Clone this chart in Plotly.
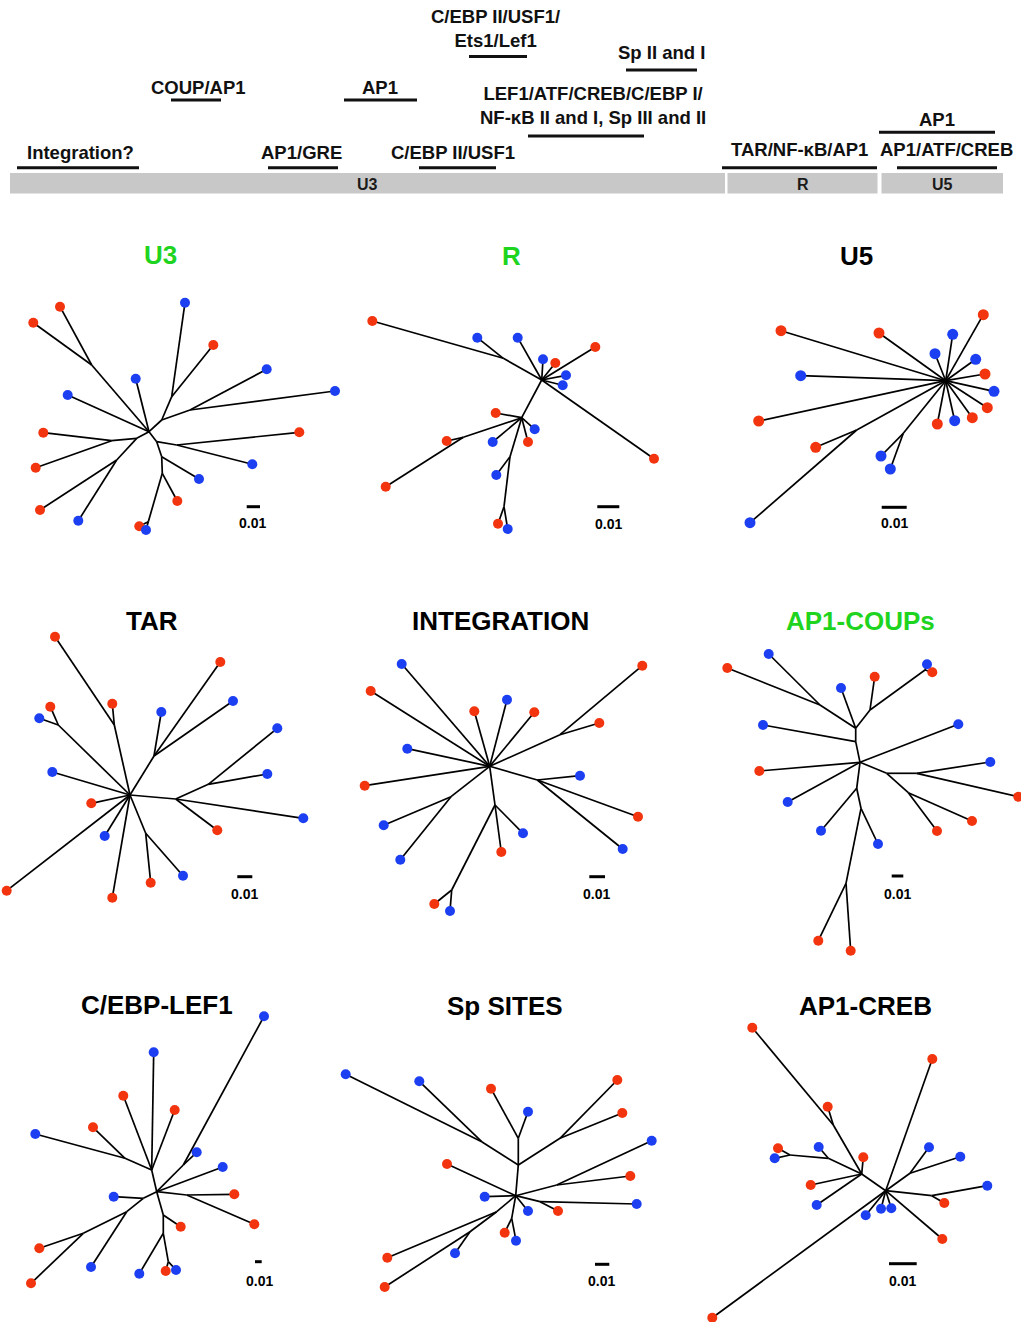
import plotly.graph_objects as go

FIG_W, FIG_H = 1021, 1322
RED = "#f2350f"
BLUE = "#1c3ff2"
GREEN = "#1fd41f"
INK = "#111111"
FONT = "Arial, 'Liberation Sans', sans-serif"

# ---------------------------------------------------------------------------
# LTR map: binding-site segments along the LTR (pixel scale of the map)
# ---------------------------------------------------------------------------
REGION_NAMES = ["U3", "R", "U5"]
REGION_START = [10, 727.5, 881.5]
REGION_END = [725, 877.5, 1003]

SITE_NAMES = [
    "Integration?", "AP1/GRE", "C/EBP II/USF1", "COUP/AP1", "AP1",
    "C/EBP II/USF1/<br>Ets1/Lef1", "Sp II and I",
    "LEF1/ATF/CREB/C/EBP I/<br>NF-κB II and I, Sp III and II",
    "TAR/NF-κB/AP1", "AP1", "AP1/ATF/CREB",
]
SITE_START = [17, 268, 419, 171, 344, 469, 626, 528, 722, 879, 897]
SITE_END = [139, 338, 496, 221, 417, 527, 697, 644, 877, 995, 997]

# ---------------------------------------------------------------------------
# Unrooted trees: (node, parent, x, y, group)   group: "R" red tip, "B" blue tip
# ---------------------------------------------------------------------------
TREE_U3 = [
    ("H", None, 149.0, 201.7, ""),
    ("A", "H", 91.7, 135.0, ""), ("r1", "A", 60.0, 76.7, "R"), ("r2", "A", 33.3, 92.7, "R"),
    ("b1", "H", 135.7, 148.7, "B"), ("b2", "H", 67.7, 165.0, "B"),
    ("B", "H", 161.7, 190.0, ""),
    ("C", "B", 171.7, 166.7, ""), ("b3", "C", 185.0, 72.7, "B"), ("r3", "C", 213.3, 115.0, "R"),
    ("D", "B", 190.0, 180.0, ""), ("b4", "D", 266.7, 139.3, "B"), ("b5", "D", 335.0, 161.0, "B"),
    ("E", "H", 136.7, 208.3, ""),
    ("F", "E", 111.7, 210.7, ""), ("r4", "F", 43.3, 202.7, "R"), ("r5", "F", 35.7, 237.7, "R"),
    ("G", "E", 116.7, 230.0, ""), ("r6", "G", 40.0, 280.0, "R"), ("b6", "G", 78.3, 290.7, "B"),
    ("N1", "H", 156.7, 211.7, ""),
    ("N2", "N1", 176.7, 215.0, ""), ("r7", "N2", 299.3, 202.3, "R"), ("b7", "N2", 252.3, 234.3, "B"),
    ("N3", "N1", 161.7, 226.7, ""), ("b8", "N3", 199.0, 249.0, "B"),
    ("N4", "N3", 162.3, 243.3, ""), ("r8", "N4", 177.3, 271.0, "R"),
    ("N5", "N4", 148.3, 291.7, ""), ("r9", "N5", 139.3, 296.3, "R"), ("b9", "N5", 146.0, 300.0, "B"),
]

TREE_R = [
    ("H", None, 201.7, 150.0, ""),
    ("a", "H", 163.3, 128.3, ""), ("r1", "a", 32.3, 91.0, "R"), ("b1", "a", 137.3, 107.7, "B"),
    ("b2", "H", 177.7, 107.7, "B"), ("r2", "H", 255.3, 117.0, "R"),
    ("b3", "H", 203.0, 129.3, "B"), ("r3", "H", 215.3, 133.0, "R"),
    ("b4", "H", 226.0, 145.3, "B"), ("b5", "H", 222.7, 155.3, "B"),
    ("r4", "H", 314.0, 228.7, "R"),
    ("b", "H", 181.7, 187.7, ""),
    ("r5", "b", 155.7, 183.0, "R"), ("b6", "b", 194.7, 199.3, "B"),
    ("r6", "b", 188.0, 212.0, "R"), ("b7", "b", 152.7, 212.0, "B"),
    ("c", "b", 123.3, 207.3, ""), ("r7", "c", 106.7, 211.0, "R"), ("r8", "c", 45.7, 256.7, "R"),
    ("d", "b", 170.0, 226.7, ""), ("b8", "d", 156.3, 245.0, "B"),
    ("e", "d", 164.0, 276.7, ""), ("r9", "e", 158.0, 293.7, "R"), ("b9", "e", 167.7, 299.0, "B"),
]

TREE_U5 = [
    ("H", None, 265.7, 150.7, ""),
    ("r1", "H", 101.0, 100.7, "R"), ("r2", "H", 199.0, 103.0, "R"), ("r3", "H", 303.3, 84.7, "R"),
    ("b1", "H", 272.7, 104.3, "B"), ("b2", "H", 255.0, 123.7, "B"), ("b3", "H", 295.7, 129.3, "B"),
    ("r4", "H", 305.0, 144.0, "R"), ("b4", "H", 314.0, 161.3, "B"), ("r5", "H", 307.3, 177.7, "R"),
    ("r6", "H", 292.3, 187.7, "R"), ("b5", "H", 274.7, 190.7, "B"), ("r7", "H", 257.3, 194.0, "R"),
    ("b6", "H", 120.7, 145.7, "B"), ("r8", "H", 78.7, 191.0, "R"),
    ("n1", "H", 176.7, 200.0, ""), ("r9", "n1", 135.7, 217.3, "R"), ("b7", "n1", 70.0, 292.7, "B"),
    ("n2", "H", 223.3, 203.3, ""), ("b8", "n2", 201.0, 226.0, "B"), ("b9", "n2", 210.3, 239.0, "B"),
]

TREE_TAR = [
    ("H", None, 130.0, 195.0, ""),
    ("A", "H", 114.3, 125.0, ""), ("r1", "A", 55.0, 36.7, "R"), ("r2", "A", 112.3, 103.7, "R"),
    ("B", "H", 58.3, 125.0, ""), ("r3", "B", 50.3, 106.7, "R"), ("b1", "B", 39.3, 118.3, "B"),
    ("C", "H", 154.0, 156.0, ""), ("b2", "C", 161.3, 112.0, "B"),
    ("r4", "C", 220.3, 62.0, "R"), ("b3", "C", 233.0, 101.0, "B"),
    ("b4", "H", 52.3, 172.0, "B"), ("r5", "H", 91.3, 203.3, "R"), ("b5", "H", 104.7, 236.0, "B"),
    ("r6", "H", 6.7, 290.7, "R"), ("r7", "H", 112.3, 297.7, "R"),
    ("D", "H", 175.7, 199.0, ""), ("r8", "D", 217.3, 230.3, "R"), ("b6", "D", 303.3, 218.3, "B"),
    ("E", "D", 208.3, 184.3, ""), ("b7", "E", 277.3, 128.3, "B"), ("b8", "E", 267.3, 174.0, "B"),
    ("F", "H", 145.7, 233.3, ""), ("b9", "F", 183.0, 275.7, "B"), ("r9", "F", 150.7, 282.7, "R"),
]

TREE_INTEGRATION = [
    ("H", None, 149.7, 166.3, ""),
    ("b1", "H", 61.7, 64.0, "B"), ("r1", "H", 30.7, 91.0, "R"), ("b2", "H", 167.0, 99.7, "B"),
    ("r2", "H", 134.3, 111.3, "R"), ("r3", "H", 194.3, 112.3, "R"), ("b3", "H", 67.3, 148.7, "B"),
    ("r4", "H", 24.7, 185.7, "R"),
    ("A", "H", 220.0, 134.7, ""), ("r5", "A", 302.3, 65.7, "R"), ("r6", "A", 259.3, 123.0, "R"),
    ("B", "H", 197.3, 180.0, ""), ("b4", "B", 240.0, 175.7, "B"),
    ("r7", "B", 298.0, 216.7, "R"), ("b5", "B", 282.7, 249.0, "B"),
    ("C", "H", 111.0, 196.7, ""), ("b6", "C", 43.7, 225.3, "B"), ("b7", "C", 60.3, 259.7, "B"),
    ("D", "H", 155.0, 205.0, ""), ("b8", "D", 183.0, 233.3, "B"), ("r8", "D", 161.3, 252.0, "R"),
    ("E", "D", 111.7, 290.0, ""), ("r9", "E", 94.3, 304.0, "R"), ("b9", "E", 110.0, 311.0, "B"),
]

TREE_AP1_COUP = [
    ("H", None, 170.0, 162.3, ""),
    ("K", "H", 165.7, 141.7, ""), ("b1", "K", 73.0, 125.0, "B"),
    ("J", "K", 165.7, 128.3, ""),
    ("A", "J", 130.0, 105.0, ""), ("b2", "A", 78.7, 54.0, "B"), ("r1", "A", 37.3, 68.0, "R"),
    ("b3", "J", 151.0, 88.0, "B"),
    ("B", "J", 180.0, 110.0, ""), ("r2", "B", 184.7, 76.7, "R"),
    ("C", "B", 235.0, 70.0, ""), ("b4", "C", 237.0, 64.3, "B"), ("r3", "C", 242.3, 72.3, "R"),
    ("b5", "H", 268.3, 124.3, "B"), ("r4", "H", 69.3, 171.0, "R"), ("b6", "H", 97.7, 202.0, "B"),
    ("D", "H", 196.7, 173.3, ""),
    ("E", "D", 226.7, 173.3, ""), ("b7", "E", 300.3, 162.0, "B"), ("r5", "E", 328.3, 196.7, "R"),
    ("F", "D", 218.3, 192.7, ""), ("r6", "F", 282.0, 221.0, "R"), ("r7", "F", 247.0, 231.0, "R"),
    ("P", "H", 166.7, 188.3, ""), ("b8", "P", 131.0, 230.7, "B"),
    ("Q", "P", 171.0, 208.3, ""), ("b9", "Q", 188.0, 244.0, "B"),
    ("S", "Q", 156.0, 283.3, ""), ("r8", "S", 128.3, 340.7, "R"), ("r9", "S", 160.7, 350.7, "R"),
]

TREE_CEBP_LEF1 = [
    ("H", None, 156.7, 206.7, ""),
    ("A", "H", 151.7, 185.0, ""), ("b1", "A", 153.7, 67.3, "B"),
    ("r1", "A", 123.3, 110.7, "R"), ("r2", "A", 174.7, 125.0, "R"),
    ("B", "A", 125.0, 173.3, ""), ("b2", "B", 35.3, 149.0, "B"), ("r3", "B", 93.0, 142.3, "R"),
    ("C", "H", 183.3, 180.0, ""), ("b3", "C", 264.0, 31.3, "B"), ("b4", "C", 196.7, 167.3, "B"),
    ("b5", "H", 222.7, 182.0, "B"),
    ("D", "H", 186.7, 210.0, ""), ("r4", "D", 234.3, 209.3, "R"), ("r5", "D", 254.3, 239.3, "R"),
    ("E", "H", 143.3, 213.3, ""), ("b6", "E", 113.7, 211.7, "B"),
    ("F", "E", 126.7, 226.7, ""),
    ("G", "F", 83.3, 248.3, ""), ("r6", "G", 39.3, 263.3, "R"), ("r7", "G", 31.0, 298.3, "R"),
    ("b7", "F", 91.0, 282.0, "B"),
    ("I", "H", 163.3, 230.0, ""), ("r8", "I", 180.7, 241.7, "R"),
    ("J", "I", 163.3, 248.3, ""), ("b8", "J", 139.3, 288.7, "B"),
    ("K", "J", 168.3, 276.7, ""), ("r9", "K", 165.7, 286.0, "R"), ("b9", "K", 176.0, 285.0, "B"),
]

TREE_SP = [
    ("H", None, 185.7, 210.7, ""),
    ("A", "H", 188.3, 180.0, ""),
    ("B", "A", 151.7, 156.7, ""), ("b1", "B", 15.7, 89.3, "B"), ("b2", "B", 89.3, 96.3, "B"),
    ("C", "A", 188.3, 153.3, ""), ("r1", "C", 161.0, 103.7, "R"), ("b3", "C", 198.0, 126.7, "B"),
    ("D", "A", 230.0, 153.3, ""), ("r2", "D", 287.3, 95.0, "R"), ("r3", "D", 292.3, 128.0, "R"),
    ("E", "H", 226.7, 200.0, ""), ("b4", "E", 321.7, 155.7, "B"), ("r4", "E", 300.3, 191.0, "R"),
    ("F", "H", 210.0, 216.7, ""), ("b5", "F", 306.7, 219.0, "B"), ("r5", "F", 228.0, 226.0, "R"),
    ("r6", "H", 117.0, 179.0, "R"), ("b6", "H", 154.7, 211.7, "B"), ("b7", "H", 198.0, 226.0, "B"),
    ("G", "H", 181.7, 233.3, ""), ("r7", "G", 174.7, 247.7, "R"), ("b8", "G", 186.0, 255.7, "B"),
    ("I", "H", 166.7, 226.7, ""), ("r8", "I", 57.3, 272.7, "R"),
    ("J", "I", 140.0, 246.7, ""), ("b9", "J", 125.0, 268.3, "B"), ("r9", "J", 54.7, 302.0, "R"),
]

TREE_AP1_CREB = [
    ("H1", None, 195.7, 205.7, ""),
    ("H2", "H1", 171.7, 189.0, ""), ("r1", "H2", 173.3, 172.3, "R"),
    ("A", "H2", 143.3, 140.0, ""), ("r2", "A", 137.7, 121.7, "R"), ("r3", "A", 62.3, 42.7, "R"),
    ("B", "H2", 138.3, 173.3, ""), ("b1", "B", 128.7, 162.0, "B"),
    ("C", "B", 100.0, 170.0, ""), ("r4", "C", 88.0, 163.3, "R"), ("b2", "C", 84.7, 173.3, "B"),
    ("r5", "H2", 120.7, 200.0, "R"), ("b3", "H2", 126.7, 220.0, "B"),
    ("r6", "H1", 242.3, 74.0, "R"),
    ("D", "H1", 220.0, 188.3, ""), ("b4", "D", 239.0, 162.3, "B"), ("b5", "D", 270.3, 171.7, "B"),
    ("E", "H1", 241.7, 210.7, ""), ("b6", "E", 297.3, 200.7, "B"), ("r7", "E", 254.3, 218.0, "R"),
    ("r8", "H1", 252.3, 254.0, "R"), ("b7", "H1", 175.7, 230.3, "B"),
    ("b8", "H1", 191.0, 223.7, "B"), ("b9", "H1", 201.3, 223.3, "B"),
    ("r9", "H1", 22.3, 332.7, "R"),
]

SCALE_LABEL = "0.01"

# Panel placement on the page: origin/size in px, title anchor, scale bar (x0, x1, y) and label anchor
PANELS = [
    dict(title="U3", tree=TREE_U3, green=True, origin=(0, 230), size=(350, 310),
         title_xy=(160, 25), bar=(246.7, 260.0, 276.7), bar_label=(252.7, 292.5)),
    dict(title="R", tree=TREE_R, green=True, origin=(340, 230), size=(340, 310),
         title_xy=(171.7, 26.0), bar=(257.3, 279.3, 276.7), bar_label=(268.0, 293.5)),
    dict(title="U5", tree=TREE_U5, green=False, origin=(680, 230), size=(341, 310),
         title_xy=(176.7, 26.0), bar=(201.7, 226.7, 277.3), bar_label=(214.0, 292.5)),
    dict(title="TAR", tree=TREE_TAR, green=False, origin=(0, 600), size=(340, 310),
         title_xy=(151.7, 21.0), bar=(237.3, 252.3, 276.7), bar_label=(244.3, 293.5)),
    dict(title="INTEGRATION", tree=TREE_INTEGRATION, green=False, origin=(340, 600), size=(340, 320),
         title_xy=(160.0, 21.0), bar=(249.3, 265.0, 276.7), bar_label=(256.7, 293.5)),
    dict(title="AP1-COUPs", tree=TREE_AP1_COUP, green=True, origin=(690, 600), size=(331, 360),
         title_xy=(170.0, 21.0), bar=(201.7, 213.3, 276.0), bar_label=(207.3, 294.0)),
    dict(title="C/EBP-LEF1", tree=TREE_CEBP_LEF1, green=False, origin=(0, 985), size=(340, 320),
         title_xy=(156.7, 20.0), bar=(255.0, 261.7, 276.7), bar_label=(259.3, 296.0)),
    dict(title="Sp SITES", tree=TREE_SP, green=False, origin=(330, 985), size=(340, 320),
         title_xy=(175.0, 21.0), bar=(265.0, 279.3, 279.3), bar_label=(271.7, 296.0)),
    dict(title="AP1-CREB", tree=TREE_AP1_CREB, green=False, origin=(690, 985), size=(331, 337),
         title_xy=(175.0, 21.0), bar=(199.0, 226.7, 278.7), bar_label=(212.3, 296.0)),
]

fig = go.Figure()
layout_axes = {}
annotations = []
shapes = []


def axis_names(i):
    suffix = "" if i == 1 else str(i)
    return "x" + suffix, "y" + suffix, "xaxis" + suffix, "yaxis" + suffix


# ---- LTR map on the first axis pair (page pixels) ----
xr, yr, xa, ya = axis_names(1)
layout_axes[xa] = dict(domain=[0, 1], range=[0, FIG_W], visible=False, fixedrange=True)
layout_axes[ya] = dict(domain=[1 - 200 / FIG_H, 1], range=[200, 0], visible=False, fixedrange=True)

for name, x0, x1 in zip(REGION_NAMES, REGION_START, REGION_END):
    shapes.append(dict(type="rect", xref=xr, yref=yr, x0=x0, x1=x1, y0=173, y1=193.5,
                       fillcolor="#c8c8c8", line=dict(width=0), layer="below"))
    annotations.append(dict(xref=xr, yref=yr, x=(x0 + x1) / 2, y=184, text=name, showarrow=False,
                            font=dict(family=FONT, size=16, color="#1a1a1a", weight=700)))

SITE_BAR_Y = [167.7, 167.7, 167.7, 100, 100, 56.5, 70, 136, 167.7, 132.3, 167.7]
SITE_LABEL_XY = [(80, 152), (301, 152), (453, 152), (198, 87), (380, 87), (495, 28.5),
                 (661, 52), (593, 105), (799, 149), (937, 119), (946, 149)]
for name, x0, x1, by, (lx, ly) in zip(SITE_NAMES, SITE_START, SITE_END, SITE_BAR_Y, SITE_LABEL_XY):
    shapes.append(dict(type="line", xref=xr, yref=yr, x0=x0, x1=x1, y0=by, y1=by,
                       line=dict(color=INK, width=3)))
    annotations.append(dict(xref=xr, yref=yr, x=lx, y=ly, text=name, showarrow=False, align="center",
                            font=dict(family=FONT, size=18.5, color=INK, weight=700)))

# ---- tree panels ----
for k, p in enumerate(PANELS):
    i = k + 2
    xr, yr, xa, ya = axis_names(i)
    ox, oy = p["origin"]
    w, h = p["size"]
    layout_axes[xa] = dict(domain=[ox / FIG_W, min(1, (ox + w) / FIG_W)], range=[0, w],
                           visible=False, fixedrange=True, anchor=yr)
    layout_axes[ya] = dict(domain=[1 - (oy + h) / FIG_H, 1 - oy / FIG_H], range=[h, 0],
                           visible=False, fixedrange=True, anchor=xr)

    pos = {n: (x, y) for n, _, x, y, _ in p["tree"]}
    ex, ey = [], []
    for n, parent, x, y, _ in p["tree"]:
        if parent is None:
            continue
        px, py = pos[parent]
        ex += [px, x, None]
        ey += [py, y, None]
    fig.add_trace(go.Scatter(x=ex, y=ey, mode="lines", xaxis=xr, yaxis=yr, hoverinfo="skip",
                             line=dict(color="black", width=1.7), showlegend=False, cliponaxis=False))
    msize = 11 if p["title"] == "U5" else 10
    for grp, col in (("R", RED), ("B", BLUE)):
        tx = [x for _, _, x, _, g in p["tree"] if g == grp]
        ty = [y for _, _, _, y, g in p["tree"] if g == grp]
        fig.add_trace(go.Scatter(x=tx, y=ty, mode="markers", xaxis=xr, yaxis=yr, showlegend=False,
                                 marker=dict(color=col, size=msize, line=dict(width=0)),
                                 cliponaxis=False))

    tx, ty = p["title_xy"]
    annotations.append(dict(xref=xr, yref=yr, x=tx, y=ty, text=p["title"], showarrow=False,
                            font=dict(family=FONT, size=26, weight=700,
                                      color=GREEN if p["green"] else "black")))
    bx0, bx1, by = p["bar"]
    shapes.append(dict(type="line", xref=xr, yref=yr, x0=bx0, x1=bx1, y0=by, y1=by,
                       line=dict(color="black", width=3)))
    lx, ly = p["bar_label"]
    annotations.append(dict(xref=xr, yref=yr, x=lx, y=ly, text=SCALE_LABEL, showarrow=False,
                            font=dict(family=FONT, size=14, weight=700, color="black")))

fig.update_layout(width=FIG_W, height=FIG_H, margin=dict(l=0, r=0, t=0, b=0),
                  paper_bgcolor="white", plot_bgcolor="rgba(0,0,0,0)",
                  annotations=annotations, shapes=shapes, showlegend=False, **layout_axes)

fig.write_html("out.html", config={"displayModeBar": False})
